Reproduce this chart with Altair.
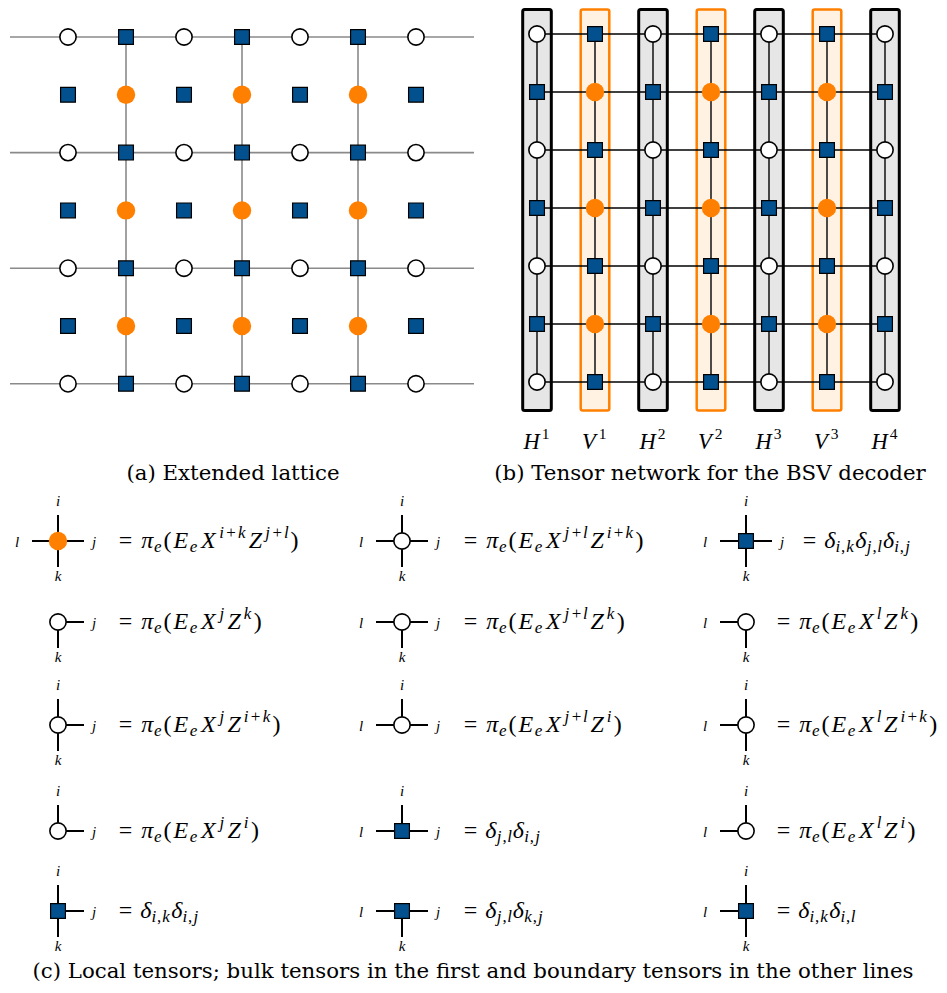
import altair as alt
import pandas as pd

# ---------------- data ----------------
# node kinds: o = open circle, B = blue square, O = orange circle
A_GRID = ["oBoBoBo", "BOBOBOB", "oBoBoBo", "BOBOBOB", "oBoBoBo", "BOBOBOB", "oBoBoBo"]
A_HLINE_ROWS = [0, 2, 4, 6]
A_VLINE_COLS = [1, 3, 5]

B_GRID = ["oBoBoBo", "BOBOBOB", "oBoBoBo", "BOBOBOB", "oBoBoBo", "BOBOBOB", "oBoBoBo"]
B_LABELS = ["H^1", "V^1", "H^2", "V^2", "H^3", "V^3", "H^4"]
B_KINDS = ["H", "V", "H", "V", "H", "V", "H"]

C_ROW = [0, 0, 0, 1, 1, 1, 2, 2, 2, 3, 3, 3, 4, 4, 4]
C_COL = [0, 1, 2, 0, 1, 2, 0, 1, 2, 0, 1, 2, 0, 1, 2]
C_NODE = ["O", "o", "B", "o", "o", "o", "o", "o", "o", "o", "B", "o", "B", "B", "B"]
C_LEGS = ["ijkl", "ijkl", "ijkl", "jk", "ljk", "lk", "ijk", "ilj", "ilk",
          "ij", "ilj", "il", "ijk", "ljk", "ilk"]
C_EQ = ["π_e(E_eX^{i+k}Z^{j+l})", "π_e(E_eX^{j+l}Z^{i+k})", "δ_{i,k}δ_{j,l}δ_{i,j}",
        "π_e(E_eX^jZ^k)", "π_e(E_eX^{j+l}Z^k)", "π_e(E_eX^lZ^k)",
        "π_e(E_eX^jZ^{i+k})", "π_e(E_eX^{j+l}Z^i)", "π_e(E_eX^lZ^{i+k})",
        "π_e(E_eX^jZ^i)", "δ_{j,l}δ_{i,j}", "π_e(E_eX^lZ^i)",
        "δ_{i,k}δ_{i,j}", "δ_{j,l}δ_{k,j}", "δ_{i,k}δ_{i,l}"]

CAPTIONS = ["(a) Extended lattice",
            "(b) Tensor network for the BSV decoder",
            "(c) Local tensors; bulk tensors in the first and boundary tensors in the other lines"]

# ---------------- layout / style ----------------
BLUE = "#03508e"
ORANGE = "#ff8000"
ORANGE_FILL = "#fff2e3"
GRAY_FILL = "#e6e6e6"
CAP_FONT = "DejaVu Serif"
MATH_FONT = "Liberation Serif, serif"

A_X0, A_DX, A_Y0, A_DY = 68, 58, 37, 57.8
A_XL, A_XR = 10, 474
B_X0, B_DX, B_Y0, B_DY = 537, 58, 34, 58
B_BOX_HALF, B_BOX_TOP, B_BOX_BOT = 14.3, 9.6, 410.5
B_LABEL_BASE = 449
C_XS = [58, 402, 746]
C_YS = [541, 622, 725, 831, 911]
LEG = 26
LABEL_OFF = {"i": (0, -35), "k": (0, 40), "l": (-41, 5.5), "j": (36, 5.5)}
LEG_DIR = {"i": (0, -1), "k": (0, 1), "l": (-1, 0), "j": (1, 0)}
EQ_OFF_J = [61, 62, 57]
EQ_OFF_NOJ = 31
EQ_BASE = 7
EQ_GAP = 22
CAPTION_POS = [(233, 480), (710, 480), (473, 978)]

# Computer-Modern-like advance widths (em) used to space glyphs
CMMI = {"π": .570, "δ": .444, "E": .738, "X": .828, "Z": .683, "H": .76, "V": .62,
        "e": .466, "i": .345, "j": .412, "k": .521, "l": .298}
ITCORR = {"X": .024, "Z": .04, "E": .026, "H": .03, "V": .1, "π": .036, "δ": .037}
CMR = {"(": .389, ")": .389, "=": .778, "+": .778, ",": .278}
SCR = {"e": .33, "i": .25, "j": .27, "k": .37, "l": .21, "+": .55, ",": .2,
       "1": .38, "2": .38, "3": .38, "4": .38}
ITALIC = set("πδEXZHVeijkl")

W, H = 931, 977
xs = alt.Scale(domain=[8, 8 + W], range=[0, W], nice=False, zero=False)
ys = alt.Scale(domain=[8, 8 + H], range=[0, H], nice=False, zero=False)


def X(f="x"):
    return alt.X(f"{f}:Q", scale=xs, axis=None)


def Y(f="y"):
    return alt.Y(f"{f}:Q", scale=ys, axis=None)


def parse(s):
    out, i = [], 0
    while i < len(s):
        ch = s[i]
        if ch in "^_":
            lvl = 1 if ch == "^" else -1
            if s[i + 1] == "{":
                j = s.index("}", i)
                grp, i = s[i + 2:j], j + 1
            else:
                grp, i = s[i + 1], i + 2
            out.append((lvl, grp))
        else:
            out.append((0, ch))
            i += 1
    return out


def layout(s, x0, base, em, main_size, script_size, raise_=0.41):
    glyphs, x, last = [], x0, None
    for lvl, grp in parse(s):
        if lvl == 0:
            w = (CMMI.get(grp) if grp in ITALIC else CMR.get(grp, .5)) * em
            glyphs.append({"x": x + w / 2, "y": base, "t": grp, "size": main_size,
                           "it": grp in ITALIC})
            x += w
            last = grp
        else:
            if lvl == 1:
                x += ITCORR.get(last, 0) * em
                yb = base - raise_ * em
            else:
                yb = base + 0.16 * em
            for ch in grp:
                w = SCR.get(ch, .35) * em
                glyphs.append({"x": x + w / 2, "y": yb, "t": ch, "size": script_size,
                               "it": ch in ITALIC})
                x += w
            x += 0.05 * em
    return glyphs, x - x0


# ---------------- build tables ----------------
nodes = []
for r, row in enumerate(A_GRID):
    for c, k in enumerate(row):
        nodes.append({"x": A_X0 + c * A_DX, "y": A_Y0 + r * A_DY, "kind": k})
for r, row in enumerate(B_GRID):
    for c, k in enumerate(row):
        nodes.append({"x": B_X0 + c * B_DX, "y": B_Y0 + r * B_DY, "kind": k})
for r, c, k in zip(C_ROW, C_COL, C_NODE):
    nodes.append({"x": C_XS[c], "y": C_YS[r], "kind": k})
nodes = pd.DataFrame(nodes)

gray_lines = []
for r in A_HLINE_ROWS:
    yv = A_Y0 + r * A_DY
    gray_lines.append({"x": A_XL, "x2": A_XR, "y": yv, "y2": yv})
for c in A_VLINE_COLS:
    xv = A_X0 + c * A_DX
    gray_lines.append({"x": xv, "x2": xv, "y": A_Y0, "y2": A_Y0 + 6 * A_DY})
gray_lines = pd.DataFrame(gray_lines)

black_lines = []
nb = len(B_GRID)
for r in range(nb):
    yv = B_Y0 + r * B_DY
    black_lines.append({"x": B_X0, "x2": B_X0 + (nb - 1) * B_DX, "y": yv, "y2": yv})
for c in range(nb):
    xv = B_X0 + c * B_DX
    black_lines.append({"x": xv, "x2": xv, "y": B_Y0, "y2": B_Y0 + (nb - 1) * B_DY})
black_lines = pd.DataFrame(black_lines)

boxes = pd.DataFrame([{"x": B_X0 + c * B_DX - B_BOX_HALF, "x2": B_X0 + c * B_DX + B_BOX_HALF,
                       "y": B_BOX_TOP, "y2": B_BOX_BOT, "kind": k}
                      for c, k in enumerate(B_KINDS)])

glyphs = []
for c, lab in enumerate(B_LABELS):
    g, w = layout(lab, 0, B_LABEL_BASE, 23, 22.5, 15.5, raise_=0.44)
    x0 = B_X0 + c * B_DX - w / 2
    for gg in g:
        gg["x"] += x0
    glyphs += g

legs, leg_labels = [], []
for r, c, legstr, eq in zip(C_ROW, C_COL, C_LEGS, C_EQ):
    cx, cy = C_XS[c], C_YS[r]
    for ch in legstr:
        dx, dy = LEG_DIR[ch]
        legs.append({"x": cx, "y": cy, "x2": cx + dx * LEG, "y2": cy + dy * LEG})
        ox, oy = LABEL_OFF[ch]
        leg_labels.append({"x": cx + ox, "y": cy + oy, "t": ch})
    ex = cx + (EQ_OFF_J[c] if "j" in legstr else EQ_OFF_NOJ)
    base = cy + EQ_BASE
    glyphs.append({"x": ex + 6.5, "y": base, "t": "=", "size": 24, "it": False})
    g, _ = layout(eq, ex + EQ_GAP - 0.5, base, 23.6, 24, 17)
    glyphs += g
legs = pd.DataFrame(legs)
leg_labels = pd.DataFrame(leg_labels)
glyphs = pd.DataFrame(glyphs)

caps = pd.DataFrame([{"x": p[0], "y": p[1], "t": t} for p, t in zip(CAPTION_POS, CAPTIONS)])

# ---------------- layers ----------------
box_h = alt.Chart(boxes).transform_filter("datum.kind == 'H'").mark_rect(
    fill=GRAY_FILL, stroke="black", strokeWidth=3, cornerRadius=2
).encode(x=X(), x2="x2:Q", y=Y(), y2="y2:Q")
box_v = alt.Chart(boxes).transform_filter("datum.kind == 'V'").mark_rect(
    fill=ORANGE_FILL, stroke=ORANGE, strokeWidth=2.5, cornerRadius=2
).encode(x=X(), x2="x2:Q", y=Y(), y2="y2:Q")

gl = alt.Chart(gray_lines).mark_rule(color="#8a8a8a", strokeWidth=1.6).encode(
    x=X(), x2="x2:Q", y=Y(), y2="y2:Q")
bl = alt.Chart(black_lines).mark_rule(color="black", strokeWidth=1.4).encode(
    x=X(), x2="x2:Q", y=Y(), y2="y2:Q")
lg = alt.Chart(legs).mark_rule(color="black", strokeWidth=2).encode(
    x=X(), x2="x2:Q", y=Y(), y2="y2:Q")

open_c = alt.Chart(nodes).transform_filter("datum.kind == 'o'").mark_point(
    shape="circle", filled=True, fill="white", stroke="black", strokeWidth=1.6, size=265, opacity=1
).encode(x=X(), y=Y())
orange_c = alt.Chart(nodes).transform_filter("datum.kind == 'O'").mark_point(
    shape="circle", filled=True, fill=ORANGE, strokeWidth=0, size=340, opacity=1
).encode(x=X(), y=Y())
blue_s = alt.Chart(nodes).transform_filter("datum.kind == 'B'").mark_point(
    shape="square", filled=True, fill=BLUE, stroke="black", strokeWidth=1.2, size=220, opacity=1
).encode(x=X(), y=Y())

lab = alt.Chart(leg_labels).mark_text(
    font=MATH_FONT, fontSize=15, fontStyle="italic", align="center", baseline="alphabetic",
    color="black"
).encode(x=X(), y=Y(), text="t:N")
g_it = alt.Chart(glyphs).transform_filter("datum.it").mark_text(
    font=MATH_FONT, fontStyle="italic", align="center", baseline="alphabetic", color="black"
).encode(x=X(), y=Y(), text="t:N", size=alt.Size("size:Q", scale=None))
g_rm = alt.Chart(glyphs).transform_filter("!datum.it").mark_text(
    font=MATH_FONT, align="center", baseline="alphabetic", color="black"
).encode(x=X(), y=Y(), text="t:N", size=alt.Size("size:Q", scale=None))
cap = alt.Chart(caps).mark_text(
    font=CAP_FONT, fontSize=21.3, align="center", baseline="alphabetic", color="black"
).encode(x=X(), y=Y(), text="t:N")

chart = alt.layer(
    box_h, box_v, gl, bl, lg, open_c, orange_c, blue_s, lab, g_it, g_rm, cap
).properties(width=W, height=H, padding=0, autosize=alt.AutoSizeParams(type="none")
).configure_view(stroke=None)

chart.save("out.html", embed_options={"renderer": "svg", "actions": False})
